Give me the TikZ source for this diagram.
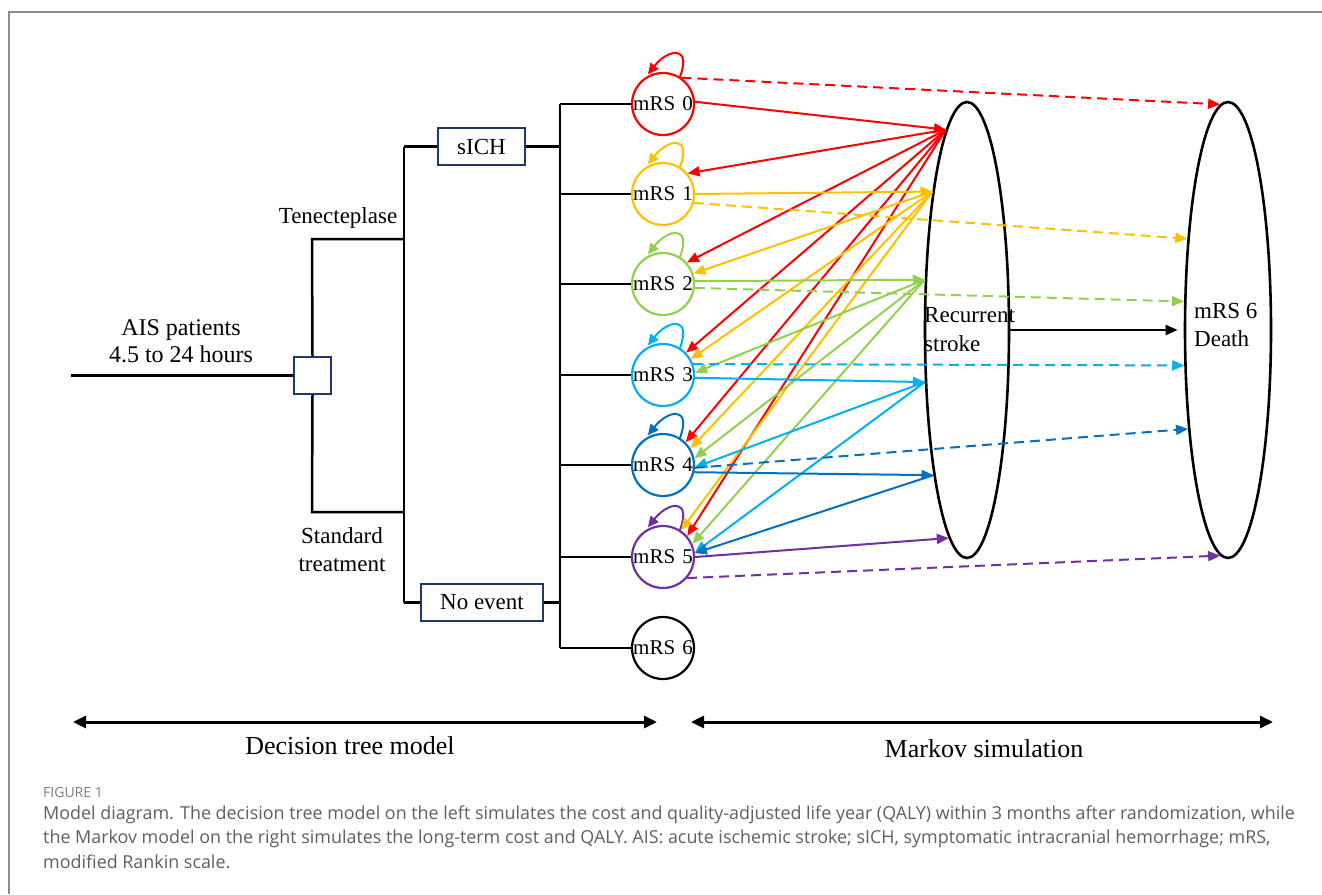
\documentclass[tikz,border=0pt]{standalone}
\usepackage{fontspec}
\setmainfont{Liberation Serif}
\newfontfamily\capfont{Open Sans}
\usetikzlibrary{arrows.meta,shapes.geometric,calc}
\definecolor{cR}{HTML}{FF0000}
\definecolor{cO}{HTML}{FFC000}
\definecolor{cG}{HTML}{92D050}
\definecolor{cC}{HTML}{00B0F0}
\definecolor{cB}{HTML}{0070C0}
\definecolor{cP}{HTML}{7030A0}
\definecolor{navy}{HTML}{1F3864}
\definecolor{capgray}{HTML}{5F5F5F}
\definecolor{framegray}{HTML}{8C8C8C}
\begin{document}
\begin{tikzpicture}[x=1pt,y=-1pt,
  tree/.style={line width=2.5pt, black},
  stbox/.style={draw=navy, line width=2.2pt, minimum height=37pt, inner sep=0pt, font=\fontsize{23}{26}\selectfont},
  state/.style={circle, draw, line width=2.2pt, minimum size=62pt, inner sep=0pt, fill=white, font=\fontsize{21}{24}\selectfont},
  oval/.style={ellipse, draw, line width=2.6pt, inner sep=0pt},
  lbl/.style={font=\fontsize{23}{28}\selectfont},
  arr/.style={line width=2pt, -{Triangle[length=12pt,width=10pt]}},
  dsh/.style={arr, dash pattern=on 10pt off 6pt},
  lp/.style={line width=2pt, -{Triangle[length=11pt,width=10pt]}, shorten >=3pt},
  barr/.style={line width=3pt, {Triangle[length=13pt,width=12pt]}-{Triangle[length=13pt,width=12pt]}},
  captxt/.style={anchor=base west, inner sep=0pt, text=capgray, font=\capfont\fontsize{17.9}{20}\selectfont}
]
\useasboundingbox (0,0) rectangle (1322,894);
% frame
\draw[framegray, line width=1.5pt] (9,894) -- (9,12) -- (1322,12);

% ---------- decision tree ----------
\node[draw=navy, line width=2.2pt, minimum size=37pt, inner sep=0pt] (dec) at (312.5,375.5) {};
\coordinate (start) at (71,375.5);
\node[align=center, font=\fontsize{24}{27}\selectfont] (ais) at (181,341) {AIS patients\\4.5 to 24 hours};
\draw[tree] (start) -- (dec.west);
\coordinate (tA) at (312,239);
\coordinate (tB) at (404,239);
\coordinate (sA) at (312,512);
\coordinate (sB) at (404,512);
\draw[tree] (dec.north) -- (tA) -- (tB);
\draw[tree] (dec.south) -- (sA) -- (sB);
\node[lbl] (tnk) at (338,218) {Tenecteplase};
\node[lbl, align=center] (std) at (342,550) {Standard\\treatment};

\node[stbox, minimum width=87pt] (sich) at (481.5,146.5) {sICH};
\node[stbox, minimum width=122pt] (noev) at (482,602.5) {No event};
\coordinate (bA) at (404,146.5);
\coordinate (bB) at (404,602.5);
\draw[tree] (bA) -- (bB);
\draw[tree] (bA) -- (sich.west);
\draw[tree] (bB) -- (noev.west);

% states
\node[state, draw=cR] (m0) at (663,104) {mRS\,\,0};
\node[state, draw=cO] (m1) at (663,194) {mRS\,\,1};
\node[state, draw=cG] (m2) at (663,284) {mRS\,\,2};
\node[state, draw=cC] (m3) at (663,375) {mRS\,\,3};
\node[state, draw=cB] (m4) at (663,465) {mRS\,\,4};
\node[state, draw=cP] (m5) at (663,557) {mRS\,\,5};
\node[state, draw=black] (m6) at (663,648) {mRS\,\,6};

\coordinate (bus) at (560,0);
\draw[tree] (m0.west -| bus) -- (m6.west -| bus);
\draw[tree] (sich.east) -- (sich.east -| bus);
\draw[tree] (noev.east) -- (noev.east -| bus);
\foreach \m in {m0,m1,m2,m3,m4,m5,m6} \draw[tree] (\m.west -| bus) -- (\m.west);

% ---------- Markov part ----------
\node[oval, minimum width=84pt, minimum height=456pt] (rs) at (967,330) {};
\node[oval, minimum width=86pt, minimum height=456pt] (death) at (1228,330) {};
\node[lbl, anchor=west, align=left, inner sep=0pt, font=\fontsize{23}{29}\selectfont] (rstxt) at (924,330) {Recurrent\\stroke};
\node[lbl, anchor=west, align=left, inner sep=0pt] (dtxt) at (1194,325) {mRS 6\\Death};

% self loops
\foreach \m/\c in {m0/cR,m1/cO,m2/cG,m3/cC,m4/cB,m5/cP}
  \draw[lp, \c] (\m.58) .. controls +(12,-32) and +(22,-28) .. (\m.122);

% red
\draw[dsh, cR] (m0.55) -- (death.92);
\draw[arr, cR] (m0.4) -- (rs.96);
\foreach \t/\a in {m1/40, m2/42, m3/44, m4/45, m5/41}
  \draw[arr, cR] (rs.96) -- (\t.\a);
% orange
\draw[arr, cO] (m1.0) -- (rs.104);
\draw[dsh, cO] (m1.344) -- (death.114);
\foreach \t/\a in {m2/19, m3/30, m4/31, m5/56}
  \draw[arr, cO] (rs.104) -- (\t.\a);
% green
\draw[arr, cG] (m2.5) -- (rs.130);
\draw[dsh, cG] (m2.353) -- (death.147);
\foreach \t/\a in {m3/4, m4/12, m5/24}
  \draw[arr, cG] (rs.130) -- (\t.\a);
% cyan
\draw[dsh, cC] (m3.20) -- (death.219);
\draw[arr, cC] (m3.355) -- (rs.231);
\foreach \t/\a in {m4/356, m5/8}
  \draw[arr, cC] (rs.231) -- (\t.\a);
% blue
\draw[dsh, cB] (m4.355) -- (death.248);
\draw[arr, cB] (m4.347) -- (rs.257);
\draw[arr, cB] (rs.257) -- (m5.7);
% purple
\draw[arr, cP] (m5.0) -- (rs.265);
\draw[dsh, cP] (m5.319) -- (death.268);
% black
\draw[arr, black, shorten >=6pt] (rs.east) -- (death.west);

% ---------- bottom scale ----------
\coordinate (dl) at (73,722);
\coordinate (dr) at (657,722);
\coordinate (ml) at (691,722);
\coordinate (mr) at (1273,722);
\draw[barr] (dl) -- (dr);
\draw[barr] (ml) -- (mr);
\node[font=\fontsize{26}{30}\selectfont] (dtm) at (350,746) {Decision tree model};
\node[font=\fontsize{26}{30}\selectfont] (msim) at (984,749) {Markov simulation};

% ---------- caption ----------
\node[captxt, text=framegray!90!black, font=\capfont\fontsize{14}{16}\selectfont] (fig) at (43,797) {FIGURE 1};
\node[captxt] (c1) at (43,819) {Model diagram. The decision tree model on the left simulates the cost and quality-adjusted life year (QALY) within 3 months after randomization, while};
\node[captxt] (c2) at (43,843.5) {the Markov model on the right simulates the long-term cost and QALY. AIS: acute ischemic stroke; sICH, symptomatic intracranial hemorrhage; mRS,};
\node[captxt] (c3) at (43,868) {modified Rankin scale.};
\end{tikzpicture}
\end{document}
